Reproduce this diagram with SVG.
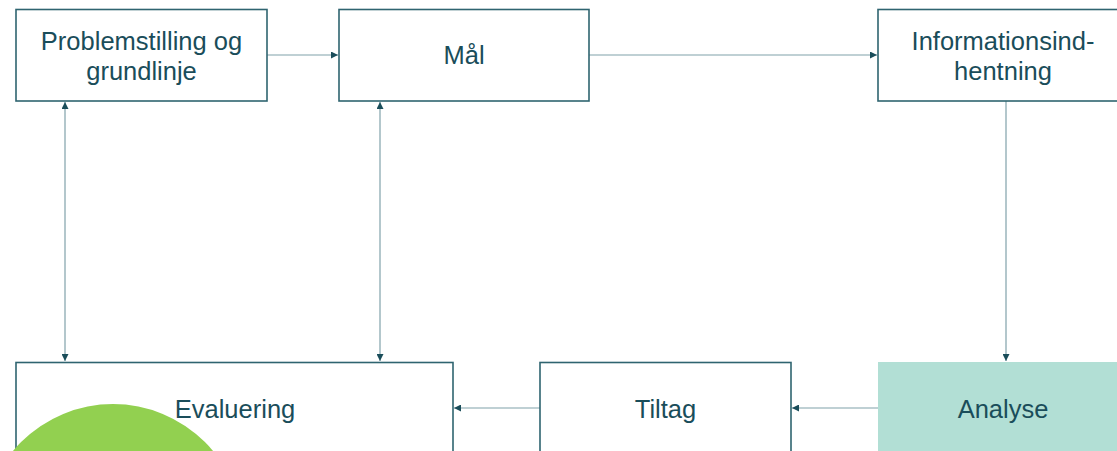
<svg xmlns="http://www.w3.org/2000/svg" width="1117" height="451" viewBox="0 0 1117 451">
<style>
.box{fill:#ffffff;stroke:#2f6470;stroke-width:1.6}
.hl{fill:#b2dfd5;stroke:none}
.t{font-family:"Liberation Sans",Arial,sans-serif;font-size:25.5px;fill:#1a4d5a;text-anchor:middle}
.c{stroke:#80a2aa;stroke-width:1.2;fill:none}
</style>
<defs>
<marker id="ah" viewBox="0 0 10 10" refX="10" refY="5" markerWidth="8" markerHeight="7" markerUnits="userSpaceOnUse" orient="auto-start-reverse">
<path d="M0,0 L10,5 L0,10 z" fill="#1a4d5a"/>
</marker>
</defs>
<rect width="1117" height="451" fill="#ffffff"/>
<g id="connectors">
<line class="c" x1="267" y1="55" x2="338" y2="55" marker-end="url(#ah)"/>
<line class="c" x1="589" y1="55" x2="877" y2="55" marker-end="url(#ah)"/>
<line class="c" x1="1006" y1="101" x2="1006" y2="361" marker-end="url(#ah)"/>
<line class="c" x1="878" y1="408" x2="792" y2="408" marker-end="url(#ah)"/>
<line class="c" x1="540" y1="408" x2="454" y2="408" marker-end="url(#ah)"/>
<line class="c" x1="65" y1="102" x2="65" y2="361" marker-start="url(#ah)" marker-end="url(#ah)"/>
<line class="c" x1="380" y1="102" x2="380" y2="361" marker-start="url(#ah)" marker-end="url(#ah)"/>
</g>
<g id="node-problemstilling">
<rect class="box" x="16" y="9.5" width="251" height="91.5"/>
<text class="t" x="141.5" y="50">Problemstilling og</text>
<text class="t" x="141.5" y="80">grundlinje</text>
</g>
<g id="node-maal">
<rect class="box" x="339" y="9.5" width="250" height="91.5"/>
<text class="t" x="464" y="64">Mål</text>
</g>
<g id="node-information">
<rect class="box" x="878" y="9.5" width="251" height="91.5"/>
<text class="t" x="1003" y="50">Informationsind-</text>
<text class="t" x="1003" y="80">hentning</text>
</g>
<g id="node-evaluering">
<rect class="box" x="16" y="362.5" width="437" height="120"/>
<text class="t" x="235" y="418">Evaluering</text>
</g>
<g id="node-tiltag">
<rect class="box" x="540" y="362.5" width="251" height="120"/>
<text class="t" x="665.5" y="418">Tiltag</text>
</g>
<g id="node-analyse">
<rect class="hl" x="878" y="362" width="251" height="120"/>
<text class="t" x="1003" y="418">Analyse</text>
</g>
<circle id="green-circle" cx="113" cy="534" r="130" fill="#92d050"/>
</svg>
